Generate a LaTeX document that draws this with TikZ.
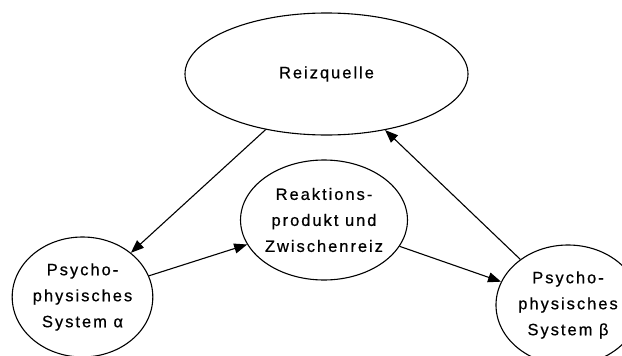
\documentclass[tikz,border=0pt]{standalone}
\usepackage{fontspec}
\setmainfont{Liberation Sans}[LetterSpace=12,FakeBold=0.6]
\usetikzlibrary{shapes.geometric,arrows.meta}
\tikzset{
  shp/.style={draw=black, line width=1.1pt, ellipse, inner sep=0pt, align=center,
    font=\fontsize{16.5}{26}\selectfont},
  arr/.style={draw=black, line width=1.1pt, -{Triangle[length=13pt,width=10pt]}}
}
\begin{document}
\begin{tikzpicture}[x=1pt,y=-1pt]
\useasboundingbox (0,0) rectangle (622,356);
\clip (0,0) rectangle (622,356);
\fill[white] (0,0) rectangle (622,356);
\node[shp, minimum width=283pt, minimum height=122pt] (reiz) at (326.5,74) {Reizquelle};
\node[shp, minimum width=142pt, minimum height=120pt] (mid) at (324,220) {Reaktions-\\produkt und\\Zwischenreiz};
\node[shp, minimum width=140pt, minimum height=120pt] (alpha) at (82.5,297) {Psycho-\\physisches\\System α};
\node[shp, minimum width=144pt, minimum height=120pt] (beta) at (568,305) {Psycho-\\physisches\\System β};
\draw[arr] (reiz) -- (alpha);
\draw[arr] (alpha) -- (mid);
\draw[arr] (mid) -- (beta);
\draw[arr] (beta) -- (reiz);
\end{tikzpicture}
\end{document}
